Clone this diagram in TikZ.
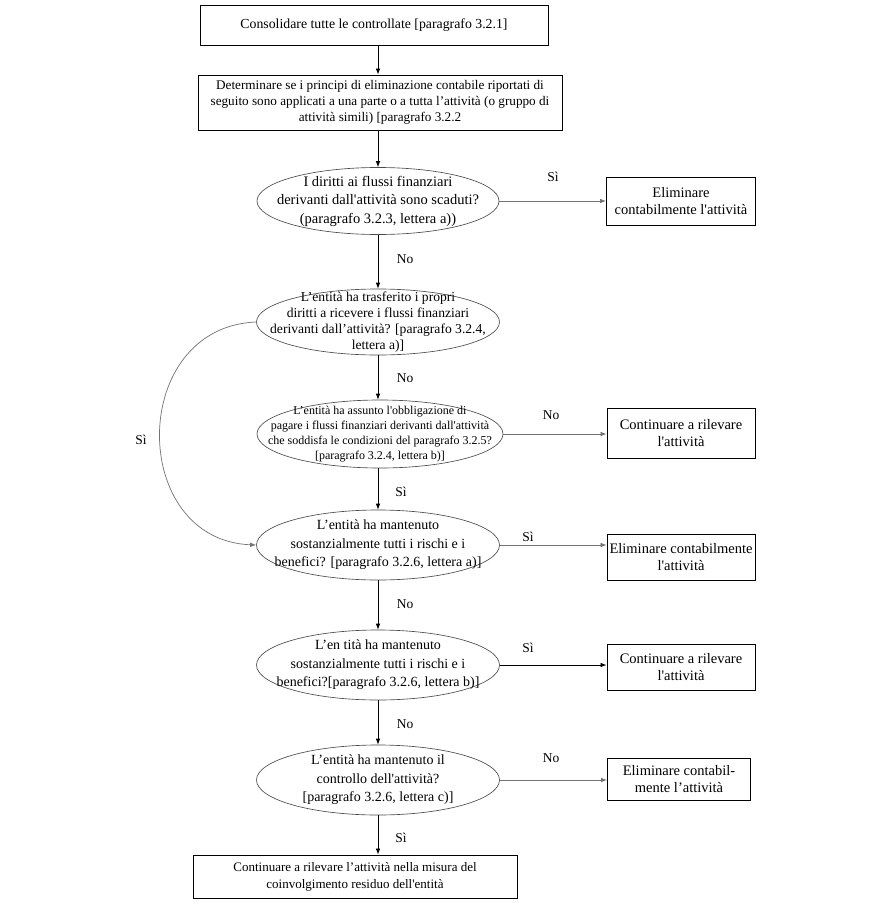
\documentclass[tikz,border=0pt]{standalone}
\usepackage{fontspec}
\setmainfont{Liberation Serif}
\usetikzlibrary{arrows.meta,shapes.geometric}
\newcommand{\sq}{\textquotesingle}
\begin{document}
\begin{tikzpicture}[x=1pt,y=-1pt,
  box/.style={draw,line width=0.9pt,rectangle,inner sep=0pt,align=center,font=\fontsize{13.2}{16}\selectfont},
  sbox/.style={box,font=\fontsize{14.5}{17}\selectfont},
  dec/.style={draw=black!70,line width=0.65pt,ellipse,inner sep=0pt},
  dtext/.style={align=center,inner sep=0pt,font=\fontsize{14}{18.5}\selectfont},
  arr/.style={line width=0.7pt,-{Latex[length=6pt,width=4.5pt]}},
  garr/.style={draw=black!55,line width=0.7pt,-{Latex[length=6pt,width=4.5pt]}},
  lab/.style={inner sep=0pt,font=\fontsize{13.5}{15}\selectfont}
]
\useasboundingbox (0,0) rectangle (869,910);
\fill[white] (0,0) rectangle (869,910);

\node[box,minimum width=348,minimum height=40,font=\fontsize{13.8}{16}\selectfont] (b1) at (374,25) {Consolidare tutte le controllate [paragrafo 3.2.1]};
\node[box,minimum width=364,minimum height=55] (b2) at (380,102.5) {Determinare se i principi di eliminazione contabile riportati di\\seguito sono applicati a una parte o a tutta l’attività (o gruppo di\\attività simili) [paragrafo 3.2.2};

\node[dec,minimum width=242,minimum height=67] (e1) at (378,201) {};
\node[dtext,font=\fontsize{14.5}{18.5}\selectfont] (t1) at (e1) {I diritti ai flussi finanziari\\derivanti dall\sq attività sono scaduti?\\(paragrafo 3.2.3, lettera a))};
\node[sbox,minimum width=149,minimum height=48] (s1) at (681,201) {Eliminare\\contabilmente l\sq attività};

\node[dec,minimum width=243,minimum height=66] (e2) at (378,322) {};
\node[dtext,font=\fontsize{13.6}{15.8}\selectfont] (t2) at (e2) {L’entità ha trasferito i propri\\diritti a ricevere i flussi finanziari\\derivanti dall’attività? [paragrafo 3.2.4,\\lettera a)]};

\node[dec,minimum width=246,minimum height=68] (e3) at (380,434) {};
\node[dtext,font=\fontsize{12}{15}\selectfont] (t3) at (e3) {L’entità ha assunto l\sq obbligazione di\\pagare i flussi finanziari derivanti dall\sq attività\\che soddisfa le condizioni del paragrafo 3.2.5?\\{[}paragrafo 3.2.4, lettera b)]};
\node[sbox,minimum width=148,minimum height=50] (s2) at (681,433) {Continuare a rilevare\\l\sq attività};

\node[dec,minimum width=243,minimum height=70] (e4) at (378,545) {};
\node[dtext] (t4) at (e4) {L’entità ha mantenuto\\sostanzialmente tutti i rischi e i\\benefici? [paragrafo 3.2.6, lettera a)]};
\node[sbox,minimum width=148,minimum height=46] (s3) at (681,557) {Eliminare contabilmente\\l\sq attività};

\node[dec,minimum width=243,minimum height=70] (e5) at (378,665) {};
\node[dtext] (t5) at (e5) {L’en tità ha mantenuto\\sostanzialmente tutti i rischi e i\\benefici?[paragrafo 3.2.6, lettera b)]};
\node[sbox,minimum width=148,minimum height=46] (s4) at (681,667) {Continuare a rilevare\\l\sq attività};

\node[dec,minimum width=243,minimum height=70] (e6) at (378,780) {};
\node[dtext] (t6) at (e6) {L’entità ha mantenuto il\\controllo dell\sq attività?\\{[}paragrafo 3.2.6, lettera c)]};
\node[sbox,minimum width=143,minimum height=42] (s5) at (679,779) {Eliminare contabil-\\mente l’attività};

\node[box,minimum width=324,minimum height=43,font=\fontsize{13}{17}\selectfont] (b3) at (355,876.5) {Continuare a rilevare l’attività nella misura del\\coinvolgimento residuo dell\sq entità};

% vertical arrows
\draw[arr] (b1.south -| e1.center) -- (b2.north -| e1.center);
\draw[arr] (b2.south -| e1.center) -- (e1.north);
\draw[arr] (e1.south) -- (e2.north);
\draw[arr] (e2.south) -- (e2.south |- e3.north);
\draw[arr] (e2.south |- e3.south) -- (e4.north);
\draw[arr] (e4.south) -- (e5.north);
\draw[arr] (e5.south) -- (e6.north);
\draw[arr] (e6.south) -- (e6.south |- b3.north);

% side arrows
\draw[garr] (e1.east) -- (s1.west);
\draw[garr] (e3.east) -- (e3.east -| s2.west);
\draw[garr] (e4.east) -- (e4.east -| s3.west);
\draw[arr] (e5.east) -- (e5.east -| s4.west);
\draw[garr] (e6.east) -- (e6.east -| s5.west);

% curved arrow
\draw[garr] (e2.west) .. controls +(-128,5) and +(-128,-5) .. (e4.west);

% labels
\node[lab] (l1) at (553,177) {Sì};
\node[lab] (l2) at (405,259) {No};
\node[lab] (l3) at (405,378) {No};
\node[lab] (l4) at (551,415) {No};
\node[lab] (l5) at (401,492) {Sì};
\node[lab] (l6) at (141,440) {Sì};
\node[lab] (l7) at (528,537) {Sì};
\node[lab] (l8) at (405,604) {No};
\node[lab] (l9) at (528,648) {Sì};
\node[lab] (l10) at (405,724) {No};
\node[lab] (l11) at (551,758) {No};
\node[lab] (l12) at (401,838) {Sì};
\end{tikzpicture}
\end{document}
